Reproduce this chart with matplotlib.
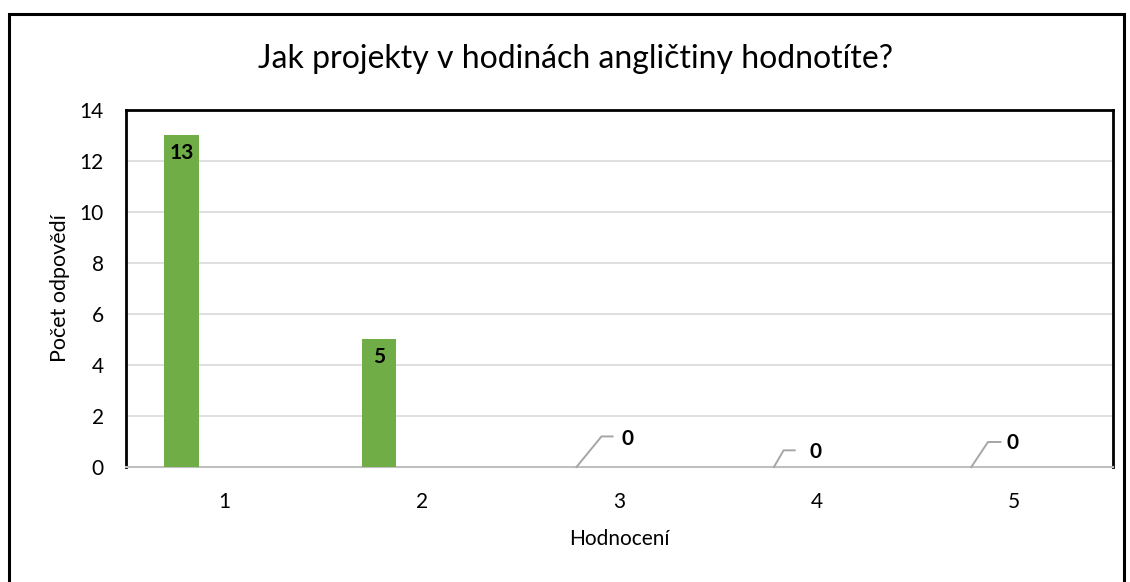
import matplotlib.pyplot as plt
from matplotlib.patches import Rectangle
from matplotlib.transforms import ScaledTranslation

plt.rcParams['font.family'] = ['Lato', 'DejaVu Sans']

categories = ['1', '2', '3', '4', '5']
counts = [13, 5, 0, 0, 0]
y_ticks = [0, 2, 4, 6, 8, 10, 12, 14]

title = 'Jak projekty v hodinách angličtiny hodnotíte?'
x_label = 'Hodnocení'
y_label = 'Počet odpovědí'

bar_color = '#70AD47'
bar_width = 0.175
bar_shift = -0.218

# leader-line shape (points from bar base) and text position for the zero labels
zero_leaders = {2: ([0, 18, 26], [0, 22, 22], (37, 20)),
                3: ([0, 7, 15], [0, 12, 12], (30, 11)),
                4: ([0, 12, 21], [0, 18, 18], (30, 17))}

fig = plt.figure(figsize=(11.3, 5.82), dpi=100)
ax = fig.add_axes([0.1115, 0.1976, 0.8735, 0.6134])

x = [i + bar_shift for i in range(len(categories))]
ax.bar(x, counts, width=bar_width, color=bar_color, zorder=3)

for xi, v in zip(x, counts):
    if v > 0:
        ax.text(xi, v - 0.3, str(v), ha='center', va='top',
                fontsize=15, fontweight='bold', zorder=4)

for i, (lx, ly, txt) in zero_leaders.items():
    base = fig.dpi_scale_trans + ScaledTranslation(x[i], 0, ax.transData)
    ax.plot([p / 72 for p in lx], [p / 72 for p in ly], color='#A6A6A6',
            lw=1.4, transform=base, clip_on=False, zorder=4)
    ax.annotate('0', xy=(x[i], 0), xytext=txt, textcoords='offset points',
                ha='center', va='center', fontsize=15, fontweight='bold')

ax.set_xlim(-0.5, len(categories) - 0.5)
ax.set_ylim(0, 14)
ax.set_yticks(y_ticks)
ax.set_xticks(range(len(categories)))
ax.set_xticklabels(categories)
ax.tick_params(axis='both', length=0, labelsize=15)
ax.tick_params(axis='y', pad=16)
ax.tick_params(axis='x', pad=18)
ax.yaxis.grid(True, color='#D9D9D9', lw=1.2, zorder=0)
ax.set_axisbelow(True)

for side in ['left', 'top', 'right']:
    ax.spines[side].set_linewidth(2)
    ax.spines[side].set_color('black')
ax.spines['bottom'].set_color('#BFBFBF')
ax.spines['bottom'].set_linewidth(1.5)

ax.set_xlabel(x_label, fontsize=15, labelpad=12)
ax.set_ylabel(y_label, fontsize=15.5, labelpad=7)
fig.text(0.509, 0.898, title, ha='center', va='center', fontsize=23)

fig.patches.append(Rectangle((9 / 1130, -0.1), 1115 / 1130, 1.1 - 14 / 582,
                             transform=fig.transFigure, fill=False,
                             edgecolor='black', lw=2.2))

fig.savefig('out.png', dpi=100)
